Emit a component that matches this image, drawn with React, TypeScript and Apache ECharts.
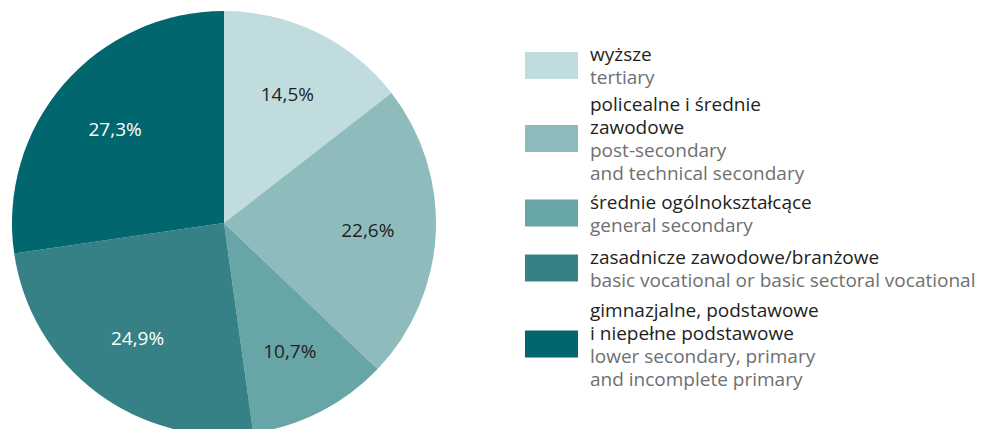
import React, { useEffect, useRef } from "react";
import * as echarts from "echarts";

const categoriesPl: string[][] = [
  ["wyższe"],
  ["policealne i średnie", "zawodowe"],
  ["średnie ogólnokształcące"],
  ["zasadnicze zawodowe/branżowe"],
  ["gimnazjalne, podstawowe", "i niepełne podstawowe"],
];
const categoriesEn: string[][] = [
  ["tertiary"],
  ["post-secondary", "and technical secondary"],
  ["general secondary"],
  ["basic vocational or basic sectoral vocational"],
  ["lower secondary, primary", "and incomplete primary"],
];
const shares: number[] = [14.5, 22.6, 10.7, 24.9, 27.3];

const sliceColors = ["#c0dcdf", "#8ebcbd", "#67a5a6", "#358185", "#02666e"];
const labelColors = ["#231f20", "#231f20", "#231f20", "#ffffff", "#ffffff"];
const legendCenters = [67.5, 140.5, 215, 270, 346];

const FONT = "'Open Sans', sans-serif";
const LINE_H = 23;

export default function App() {
  const ref = useRef<HTMLDivElement>(null);
  useEffect(() => {
    if (!ref.current) return;
    const chart = echarts.init(ref.current, undefined, { renderer: "svg" });
    const names = categoriesPl.map((l) => l.join(" "));
    const fmt = (v: number) => v.toFixed(1).replace(".", ",") + "%";
    const legends = names.map((n, i) => {
      const lines = categoriesPl[i].length + categoriesEn[i].length;
      return {
        orient: "vertical",
        left: 525,
        top: legendCenters[i] - (lines * LINE_H) / 2,
        padding: 0,
        itemWidth: 53,
        itemHeight: 27,
        icon: "rect",
        selectedMode: false,
        data: [n],
        formatter: () => {
          const pl = categoriesPl[i].map((s) => `{pl|${s}}`);
          const en = categoriesEn[i].map((s) => `{en|${s}}`);
          return [...pl, ...en].join("\n");
        },
        textStyle: {
          fontFamily: FONT,
          rich: {
            pl: { fontSize: 19, lineHeight: LINE_H, color: "#231f20", fontFamily: FONT, padding: [0, 0, 0, 7] },
            en: { fontSize: 19, lineHeight: LINE_H, color: "#6f6f71", fontFamily: FONT, padding: [0, 0, 0, 7] },
          },
        },
      };
    });
    chart.setOption({
      animation: false,
      backgroundColor: "#ffffff",
      textStyle: { fontFamily: FONT },
      legend: legends,
      series: [
        {
          type: "pie",
          center: [224, 223],
          radius: [0, 212],
          startAngle: 90,
          clockwise: true,
          label: { show: false },
          labelLine: { show: false },
          itemStyle: { borderWidth: 0 },
          data: names.map((n, i) => ({
            name: n,
            value: shares[i],
            itemStyle: { color: sliceColors[i] },
          })),
        },
        {
          type: "pie",
          center: [224, 223],
          radius: [0, 282],
          startAngle: 90,
          clockwise: true,
          silent: true,
          labelLine: { show: false },
          itemStyle: { color: "rgba(0,0,0,0)", borderWidth: 0 },
          label: {
            show: true,
            position: "inside",
            fontSize: 19,
            fontFamily: FONT,
            formatter: (p: any) => fmt(p.value),
          },
          data: names.map((n, i) => ({
            name: n + " ",
            value: shares[i],
            label: { color: labelColors[i] },
          })),
        },
      ],
    });
    return () => chart.dispose();
  }, []);
  return (
    <div
      ref={ref}
      style={{ position: "fixed", left: 0, top: 0, width: 984, height: 429 }}
    />
  );
}
